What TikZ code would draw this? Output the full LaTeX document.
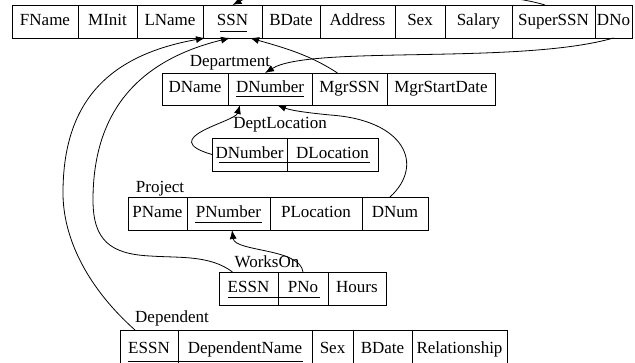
\documentclass[tikz,border=0pt]{standalone}
\usepackage{fontspec}
\setmainfont{Liberation Serif}
\usetikzlibrary{positioning,arrows.meta}

\tikzset{
  cell/.style={draw, line width=0.8pt, inner sep=0pt, outer sep=0pt,
    minimum height=33pt, text height=12pt, text depth=4pt, anchor=west},
  title/.style={inner sep=0pt},
  fk/.style={line width=0.8pt, -{Latex[length=9pt,width=7pt]}},
  key/.style={line width=0.8pt}
}

\begin{document}
\begin{tikzpicture}[x=1pt,y=1pt,font=\fontsize{17}{20}\selectfont]
\useasboundingbox (0,0) rectangle (635,-363);
\clip (0,0) rectangle (635,-363);

% Employee
\node[cell, minimum width=66pt] (fname) at (12,-21.5) {FName};
\node[cell, minimum width=59pt, right=0pt of fname] (minit) {MInit};
\node[cell, minimum width=66pt, right=0pt of minit] (lname) {LName};
\node[cell, minimum width=59pt, right=0pt of lname] (ssn) {SSN};
\node[cell, minimum width=58pt, right=0pt of ssn] (bdate) {BDate};
\node[cell, minimum width=75pt, right=0pt of bdate] (address) {Address};
\node[cell, minimum width=50pt, right=0pt of address] (sex) {Sex};
\node[cell, minimum width=67pt, right=0pt of sex] (salary) {Salary};
\node[cell, minimum width=83pt, right=0pt of salary] (superssn) {SuperSSN};
\node[cell, minimum width=37pt, right=0pt of superssn] (dno) {DNo};
\draw[key] ([xshift=-12.5pt,yshift=7pt]ssn.south) -- ([xshift=14.5pt,yshift=7pt]ssn.south);

% Department
\node[title] (deptlabel) at (230,-63) {Department};
\node[cell, minimum width=66pt, minimum height=32pt] (dname) at (162,-89) {DName};
\node[cell, minimum width=84pt, minimum height=32pt, right=0pt of dname] (dnumber) {DNumber};
\node[cell, minimum width=75pt, minimum height=32pt, right=0pt of dnumber] (mgrssn) {MgrSSN};
\node[cell, minimum width=108pt, minimum height=32pt, right=0pt of mgrssn] (mgrstart) {MgrStartDate};
\draw[key] ([xshift=-34pt,yshift=9pt]dnumber.south) -- ([xshift=34pt,yshift=9pt]dnumber.south);

% DeptLocation
\node[title] (loclabel) at (280,-125) {DeptLocation};
\node[cell, minimum width=75pt] (dlnumber) at (212,-154.5) {DNumber};
\node[cell, minimum width=91pt, right=0pt of dlnumber] (dlocation) {DLocation};
\draw[key] ([xshift=7pt,yshift=9pt]dlnumber.south west) -- ([xshift=-8pt,yshift=9pt]dlocation.south east);

% Project
\node[title] (projlabel) at (160,-189) {Project};
\node[cell, minimum width=59pt] (pname) at (128,-213.5) {PName};
\node[cell, minimum width=83pt, right=0pt of pname] (pnumber) {PNumber};
\node[cell, minimum width=92pt, right=0pt of pnumber] (plocation) {PLocation};
\node[cell, minimum width=66pt, right=0pt of plocation] (dnum) {DNum};
\draw[key] ([xshift=8pt,yshift=8pt]pnumber.south west) -- ([xshift=-8pt,yshift=8pt]pnumber.south east);

% WorksOn
\node[title] (workslabel) at (267,-262) {WorksOn};
\node[cell, minimum width=59pt] (woessn) at (219,-288.5) {ESSN};
\node[cell, minimum width=50pt, right=0pt of woessn] (pno) {PNo};
\node[cell, minimum width=58pt, right=0pt of pno] (hours) {Hours};
\draw[key] ([xshift=9pt,yshift=8pt]woessn.south west) -- ([xshift=-8pt,yshift=8pt]pno.south east);

% Dependent
\node[title] (deplabel) at (172,-318) {Dependent};
\node[cell, minimum width=58pt, minimum height=40pt] (depessn) at (120,-350) {ESSN};
\node[cell, minimum width=134pt, minimum height=40pt, right=0pt of depessn] (depname) {DependentName};
\node[cell, minimum width=41pt, minimum height=40pt, right=0pt of depname] (depsex) {Sex};
\node[cell, minimum width=59pt, minimum height=40pt, right=0pt of depsex] (depbdate) {BDate};
\node[cell, minimum width=95pt, minimum height=40pt, right=0pt of depbdate] (relationship) {Relationship};
\draw[key] ([xshift=8pt,yshift=9pt]depessn.south west) -- ([xshift=-9pt,yshift=9pt]depname.south east);

% foreign keys
\draw[fk] ([xshift=-8.5pt]superssn.north) .. controls (480,15) and (270,15) .. (ssn.north);
\draw[fk] ([xshift=-12pt]mgrssn.north) .. controls (310,-55) and (285,-48) .. ([xshift=17.5pt]ssn.south);
\draw[fk] (dno.south) .. controls (520,-65) and (310,-45) .. ([xshift=-5pt]dnumber.north);
\draw[fk] (dlnumber.west) .. controls (155,-138) and (235,-122) .. ([xshift=-30pt]dnumber.south);
\draw[fk] ([xshift=-5pt]dnum.north) .. controls (425,-165) and (405,-120) .. (330,-115)
  .. controls (300,-112) and (290,-110) .. ([xshift=7pt]dnumber.south);
\draw[fk] (pno.north) .. controls (300,-248) and (235,-252) .. ([xshift=3.5pt]pnumber.south);
\draw[fk] ([xshift=-16pt]woessn.north) .. controls (210,-255) and (180,-258) .. (150,-256)
  .. controls (110,-254) and (93,-240) .. (93,-200)
  .. controls (93,-110) and (140,-60) .. ([xshift=-2.5pt]ssn.south);
\draw[fk] ([xshift=-14pt]depessn.north) .. controls (90,-290) and (62,-240) .. (63,-190)
  .. controls (64,-100) and (110,-55) .. ([xshift=2pt]ssn.south west);
\end{tikzpicture}
\end{document}
